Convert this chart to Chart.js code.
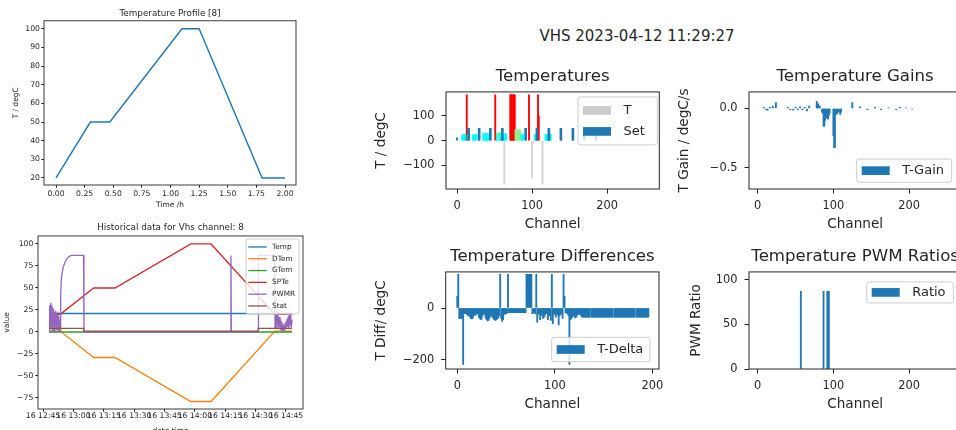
<!DOCTYPE html>
<html>
<head>
<meta charset="utf-8">
<script src="https://cdn.jsdelivr.net/npm/chart.js@4.4.0/dist/chart.umd.min.js"></script>
<style>
  html, body { margin: 0; padding: 0; background: #fff; width: 956px; height: 430px; overflow: hidden; }
  body { position: relative; font-family: "DejaVu Sans", sans-serif; }
  canvas { position: absolute; }
  #suptitle { position: absolute; left: 370px; width: 534px; top: 27px; line-height: 18px; text-align: center; font-size: 15px; color: #262626; }
</style>
</head>
<body>
<canvas id="cProfile" width="330" height="215" style="left:0;top:0"></canvas>
<canvas id="cHist" width="330" height="224" style="left:0;top:215px"></canvas>
<div id="suptitle">VHS 2023-04-12 11:29:27</div>
<canvas id="cTemps" width="300" height="175" style="left:370px;top:60px"></canvas>
<canvas id="cGains" width="310" height="175" style="left:660px;top:60px"></canvas>
<canvas id="cDiffs" width="300" height="175" style="left:370px;top:240px"></canvas>
<canvas id="cPwm" width="310" height="175" style="left:660px;top:240px"></canvas>
<script>
// ---------- data ----------
// temperature profile for channel 8 (time in h)
const profTime = [0, 0.30, 0.47, 1.10, 1.25, 1.80, 2.00];
const profTemp = [20, 50, 50, 100, 100, 20, 20];
const profXTicks = [0, 0.25, 0.5, 0.75, 1, 1.25, 1.5, 1.75, 2];
const profYTicks = [20, 30, 40, 50, 60, 70, 80, 90, 100];

// historical data, x = minutes after 12:00
const histTickMin = [45, 60, 75, 90, 105, 120, 135, 150, 165];
const histTickLabels = ['16 12:45', '16 13:00', '16 13:15', '16 13:30', '16 13:45', '16 14:00', '16 14:15', '16 14:30', '16 14:45'];
const histYTicks = [-75, -50, -25, 0, 25, 50, 75, 100];
const tempMin = [48, 168];
const tempVal = [21, 21];
const dtemMin = [48, 53.5, 70, 80.5, 118, 128, 159.5, 168];
const dtemVal = [1, 1, -29, -29, -79, -79, 1, 1];
const gtemMin = [48, 168];
const gtemVal = [0, 0];
const spteMin = [48, 53.5, 70, 80.5, 118, 128, 159.5, 168];
const spteVal = [20, 20, 50, 50, 100, 100, 20, 20];
const pwmrMin = [48, 48.25, 48.5, 48.75, 49, 49.25, 49.5, 49.75, 50, 50.25, 50.5, 50.75, 51, 51.25, 51.5, 51.75, 52, 52.25, 52.5, 52.75, 53, 53.25, 53.5,
  53.7, 54, 54.5, 55, 56, 57, 58, 59, 65, 65.2, 137.6, 137.8, 138, 151.2, 151.4, 159.4,
  159.6, 159.8, 160.1, 160.4, 160.7, 161, 161.3, 161.6, 161.9, 162.2, 162.5, 162.8, 163.1, 163.4, 163.7, 164, 164.3, 164.6, 164.9, 165.2, 165.5, 165.8, 166.1, 166.4, 166.7, 167, 167.3, 167.6, 168];
const pwmrVal = [0, 30, 4, 33, 8, 31, 2, 28, 12, 26, 0, 22, 15, 24, 3, 20, 9, 23, 0, 18, 6, 14, 2,
  40, 60, 68, 74, 80, 84, 86, 87, 87, 0, 0, 87, 0, 0, 87, 87,
  4, 20, 5, 24, 10, 22, 3, 17, 9, 12, 2, 8, 0, 6, 3, 10, 1, 7, 12, 4, 15, 6, 18, 3, 20, 8, 22, 5, 14];
const statMin = [48, 65, 65.1, 151.2, 151.3, 168];
const statVal = [4, 4, 1, 1, 4, 4];

// temperatures per channel (state: c ok, g warm, r hot, x fault)
const tChannels = [7, 8, 9, 10, 11, 12, 13, 14, 21, 22, 23, 24, 25, 26, 35, 36, 37, 38, 39, 40, 41, 42, 51,
  53, 54, 55, 56, 57, 58, 59, 60, 61, 62, 63, 64, 65, 66, 71, 72, 73, 74, 75, 76, 77,
  78, 79, 80, 81, 82, 83, 84, 85, 86, 87, 88, 96, 100, 101, 102, 104, 105, 106, 108, 109, 114,
  118, 119, 120, 121, 122, 123, 124, 125];
const tValues = [25, 25, 22, 25, 25, 25, 185, 25, 22, 25, 25, 20, 25, 25, 28, 28, 25, 30, 30, 25, 28, 25, 185,
  28, 28, 33, 35, 30, 28, 25, 28, 28, 25, -175, 28, 28, 28, 185, 185, 185, 185, 185, 185, 185,
  45, 45, 45, 42, 45, 40, 45, 38, 25, 25, 28, 185, -150, -12, -8, 25, 25, 25, 185, 100, -175,
  25, 22, 25, 25, 25, 25, 25, 25];
const tState = ['c', 'c', 'c', 'c', 'c', 'c', 'r', 'c', 'c', 'c', 'c', 'c', 'c', 'c', 'c', 'c', 'c', 'c', 'c', 'c', 'c', 'c', 'r',
  'c', 'c', 'g', 'g', 'c', 'c', 'c', 'c', 'c', 'c', 'x', 'c', 'c', 'c', 'r', 'r', 'r', 'r', 'r', 'r', 'r',
  'g', 'g', 'g', 'g', 'g', 'g', 'g', 'g', 'c', 'c', 'c', 'r', 'x', 'x', 'x', 'c', 'c', 'c', 'r', 'r', 'x',
  'c', 'c', 'c', 'c', 'c', 'c', 'c', 'c'];
const setChannels = [0, 15, 16, 29, 30, 44, 45, 60, 61, 91, 92, 106, 107, 122, 123, 138, 139, 154, 155, 169, 170, 185, 186];
const setValues = [12, 50, 50, 50, 50, 50, 50, 50, 50, 50, 50, 50, 50, 50, 50, 50, 50, 50, 50, 50, 50, 50, 50];

// temperature gains
const gainChannels = [8, 11, 13, 16, 20, 24, 40, 43, 47, 50, 53, 56, 59, 62, 65, 68, 78, 79, 80, 82,
  85, 86, 87, 88, 89, 91, 92, 93, 94, 95, 100, 101, 102, 104, 105, 107, 109, 110,
  125, 135, 145, 155, 163, 173, 183, 188, 196, 204];
const gainValues = [0.01, -0.01, -0.015, 0.01, 0.02, 0.05, 0.01, -0.01, -0.015, 0.01, -0.01, 0.015, -0.01, 0.01, -0.02, 0.02, 0.06, 0.03, 0.04, 0.02,
  -0.03, -0.04, -0.15, -0.15, -0.1, -0.08, -0.08, -0.09, -0.06, -0.04, -0.23, -0.33, -0.33, -0.05, -0.04, -0.03, -0.05, -0.03,
  0.05, 0.015, -0.01, 0.01, -0.01, 0.005, -0.01, 0.01, 0.005, -0.005];

// temperature differences, one value per channel 0..196
const diffValues = [
  45, 130, -40, -40, -40, -38, -217, -22, -22, -20,
  -25, -30, -28, -35, -40, -42, -38, -30, -25, -28,
  -20, -22, -35, -40, -45, -42, -30, -22, -25, -38,
  -45, -50, -48, -40, -32, -28, -35, -40, -45, -48,
  -45, -42, -38, -30, 130, -40, -52, -45, -20, -25,
  -22, -20, 130, -18, -18, -18, -18, -18, -18, -18,
  -18, -18, -18, -18, -18, -18, -18, -18, -18, -18,
  -18, 130, 130, 130, 130, 130, 130, -22, -18, -20,
  -22, 130, -55, -25, -20, -45, -30, -22, -40, -35,
  -28, -22, -20, -45, -25, -30, -48, 130, -60, -25,
  -22, -35, -20, -28, -65, -30, -22, -25, -40, 130,
  45, -20, -18, -22, -30, -217, -45, -40, -35, -30,
  -32, -38, -35, -28, -25, -20, -25, -30, -35, -35,
  -35, -35, -35, -35, -35, -35, -35, null, -35, -35,
  -35, -35, -35, -35, -35, -35, -35, -35, -35, -35,
  -35, -35, -35, -35, -35, -35, -35, -35, -35, -35,
  null, -35, -35, -35, -35, -35, -35, -35, -35, -35,
  -35, -35, -35, -35, -35, -35, -35, -35, -35, -35,
  -35, -35, -35, null, -35, -35, -35, -35, -35, -35,
  -35, -35, -35, -35, -35, -35, -35
];

// PWM ratios
const pwmChannels = [57, 87, 92, 93, 94];
const pwmValues = [87, 87, 87, 87, 87];

const channelTicks = [0, 100, 200];

// ---------- styling helpers ----------
const FONT = '"DejaVu Sans", sans-serif';
const INK = '#262626';
const BLUE = '#1f77b4';
const STATE_COLOR = { c: '#00ffff', g: '#90ee90', r: '#ff0000', x: '#d3d3d3' };
Chart.defaults.font.family = FONT;

const pts = (xs, ys) => xs.map((x, i) => ({ x: x, y: ys[i] }));
const minus = s => String(s).replace('-', '\u2212');

// box round the plot area, like matplotlib spines
const mplFrame = {
  id: 'mplFrame',
  afterDatasetsDraw(chart, args, opts) {
    const { ctx, chartArea: a } = chart;
    ctx.save();
    ctx.strokeStyle = INK;
    ctx.lineWidth = opts.width || 1;
    ctx.strokeRect(a.left, a.top, a.right - a.left, a.bottom - a.top);
    ctx.restore();
  }
};

// legend drawn inside the plot area
const mplLegend = {
  id: 'mplLegend',
  afterDatasetsDraw(chart, args, o) {
    if (!o || !o.w) return;
    const { ctx, chartArea: a } = chart;
    const items = chart.data.datasets.filter(d => d.label);
    const x = a.right - o.dx - o.w;
    const y = o.bottom ? a.bottom - o.dy - o.h : a.top + o.dy;
    ctx.save();
    ctx.beginPath();
    if (ctx.roundRect) ctx.roundRect(x, y, o.w, o.h, 2.5); else ctx.rect(x, y, o.w, o.h);
    ctx.fillStyle = 'rgba(255,255,255,0.8)';
    ctx.fill();
    ctx.strokeStyle = '#cccccc';
    ctx.lineWidth = 1;
    ctx.stroke();
    const rowH = (o.h - 2 * o.padY) / items.length;
    ctx.font = o.size + 'px ' + FONT;
    ctx.textBaseline = 'middle';
    items.forEach((d, i) => {
      const cy = y + o.padY + rowH * (i + 0.5);
      const hx = x + o.padX;
      const col = d.legendColor || d.borderColor;
      if (o.lines) {
        ctx.strokeStyle = col;
        ctx.lineWidth = o.lineW;
        ctx.beginPath();
        ctx.moveTo(hx, cy);
        ctx.lineTo(hx + o.handle, cy);
        ctx.stroke();
      } else {
        ctx.fillStyle = col;
        ctx.fillRect(hx, cy - o.patchH / 2, o.handle, o.patchH);
      }
      ctx.fillStyle = INK;
      ctx.fillText(d.label, hx + o.handle + o.gap, cy);
    });
    ctx.restore();
  }
};

function axis(o, horizontal) {
  return {
    type: 'linear',
    min: o.min,
    max: o.max,
    offset: false,
    afterBuildTicks: s => { s.ticks = o.ticks.map(v => ({ value: v })); },
    afterFit: s => { if (horizontal) s.height = o.size; else s.width = o.size; },
    grid: { display: true, drawOnChartArea: false, drawTicks: true, offset: false, tickLength: o.tick, tickWidth: 1, tickColor: INK, color: INK },
    border: { display: false },
    ticks: { autoSkip: false, maxRotation: 0, minRotation: 0, padding: o.pad, color: INK, font: { family: FONT, size: o.tickFont }, callback: o.fmt },
    title: { display: true, text: o.label, color: INK, font: { family: FONT, size: o.labelFont }, padding: { top: o.labelPad, bottom: o.labelPad } }
  };
}

function mplChart(id, o) {
  return new Chart(document.getElementById(id), {
    type: o.type,
    data: { datasets: o.datasets },
    options: {
      responsive: false,
      animation: false,
      events: [],
      layout: { padding: o.padding, autoPadding: false },
      plugins: {
        legend: { display: false },
        tooltip: { enabled: false },
        title: { display: true, text: o.title, fullSize: false, color: INK, font: { family: FONT, size: o.titleFont, weight: 'normal' }, padding: o.titlePad },
        mplFrame: { width: o.frameWidth || 1 },
        mplLegend: o.legend || {}
      },
      datasets: { bar: { grouped: false, barThickness: 1.2, borderWidth: 0 } },
      scales: { x: axis(o.x, true), y: axis(o.y, false) }
    },
    plugins: [mplFrame, mplLegend]
  });
}

// ---------- left: temperature profile ----------
mplChart('cProfile', {
  type: 'line',
  title: 'Temperature Profile [8]', titleFont: 8.8, titlePad: { top: 8.6, bottom: 1.6 },
  padding: { left: 8, right: 34, top: 0, bottom: 2 },
  frameWidth: 0.9,
  datasets: [{ data: pts(profTime, profTemp), borderColor: BLUE, borderWidth: 1.4, pointRadius: 0, tension: 0 }],
  x: { min: -0.105, max: 2.096, ticks: profXTicks, fmt: v => v.toFixed(2), size: 28, tick: 2.7, pad: 1.7, tickFont: 7.7, label: 'Time /h', labelFont: 7.5, labelPad: 3.5 },
  y: { min: 16.24, max: 104.3, ticks: profYTicks, fmt: v => String(v), size: 36, tick: 2.7, pad: 1.3, tickFont: 7.7, label: 'T / degC', labelFont: 7.5, labelPad: 3.5 }
});

// ---------- left: historical data ----------
const line = (label, color, xs, ys) => ({ label: label, data: pts(xs, ys), borderColor: color, borderWidth: 1.3, pointRadius: 0, tension: 0 });
mplChart('cHist', {
  type: 'line',
  title: 'Historical data for Vhs channel: 8', titleFont: 8.8, titlePad: { top: 7.7, bottom: 2.7 },
  padding: { left: 0, right: 27, top: 0, bottom: 2.2 },
  frameWidth: 0.9,
  datasets: [
    Object.assign(line('Temp', '#1f77b4', tempMin, tempVal), { order: 5 }),
    Object.assign(line('DTem', '#ff7f0e', dtemMin, dtemVal), { order: 4 }),
    Object.assign(line('GTem', '#2ca02c', gtemMin, gtemVal), { order: 3 }),
    Object.assign(line('SPTe', '#d62728', spteMin, spteVal), { order: 2 }),
    Object.assign(line('PWMR', '#9467bd', pwmrMin, pwmrVal), { order: 1 }),
    Object.assign(line('Stat', '#8c564b', statMin, statVal), { order: 0 })
  ],
  legend: { lines: true, dx: 4, dy: 3, w: 53, h: 75, padY: 2.1, padX: 2.3, handle: 18.5, gap: 5.3, size: 7.3, lineW: 1.3 },
  x: { min: 42.5, max: 173.4, ticks: histTickMin, fmt: (v, i) => histTickLabels[i], size: 27.8, tick: 2.7, pad: 0, tickFont: 7.7, label: 'date time', labelFont: 7.5, labelPad: 0.8 },
  y: { min: -87.5, max: 109.1, ticks: histYTicks, fmt: v => minus(v), size: 38, tick: 2.7, pad: 2, tickFont: 7.7, label: 'value', labelFont: 7.5, labelPad: 2.5 }
});

// ---------- right: VHS snapshot ----------
const rightX = (min, max) => ({ min: min, max: max, ticks: channelTicks, fmt: v => String(v), size: 46, tick: 4.5, pad: 5.4, tickFont: 11.4, label: 'Channel', labelFont: 13.6, labelPad: 2.3 });
const rightY = (min, max, ticks, fmt, size, label) => ({ min: min, max: max, ticks: ticks, fmt: fmt, size: size, tick: 4.5, pad: 7, tickFont: 11.4, label: label, labelFont: 13.6, labelPad: 3.5 });
const rightLegend = (bottom, dx, dy, w, h, padY) => ({ bottom: bottom, dx: dx, dy: dy, w: w, h: h, padY: padY, padX: 5, handle: 28, gap: 12.5, size: 13, patchH: 8.7 });
const rightTitle = { top: 7, bottom: 5 };

mplChart('cTemps', {
  type: 'bar',
  title: 'Temperatures', titleFont: 16.6, titlePad: rightTitle,
  padding: { left: 0, right: 10.7, top: 0, bottom: 0 },
  datasets: [
    { label: 'T', data: pts(tChannels, tValues), backgroundColor: tState.map(s => STATE_COLOR[s]), legendColor: '#cccccc', order: 1 },
    { label: 'Set', data: pts(setChannels, setValues), backgroundColor: BLUE, legendColor: BLUE, order: 0 }
  ],
  legend: rightLegend(false, 2, 5, 79.3, 48, 3),
  x: rightX(-14.67, 269.7),
  y: rightY(-195, 197, [-100, 0, 100], v => minus(v), 76, 'T / degC')
});

mplChart('cGains', {
  type: 'bar',
  title: 'Temperature Gains', titleFont: 16.6, titlePad: rightTitle,
  padding: { left: 13, right: 8.7, top: 0, bottom: 0 },
  datasets: [{ label: 'T-Gain', data: pts(gainChannels, gainValues), backgroundColor: BLUE, legendColor: BLUE }],
  legend: rightLegend(true, 9.6, 6.7, 95, 23.3, 0),
  x: rightX(-11.5, 269),
  y: rightY(-0.68, 0.14, [-0.5, 0], v => minus(v.toFixed(1)), 76, 'T Gain / degC/s')
});

mplChart('cDiffs', {
  type: 'bar',
  title: 'Temperature Differences', titleFont: 16.6, titlePad: rightTitle,
  padding: { left: 0, right: 11, top: 0, bottom: 0 },
  datasets: [{ label: 'T-Delta', data: diffValues.map((v, ch) => ({ x: ch, y: v })), backgroundColor: BLUE, legendColor: BLUE }],
  legend: rightLegend(true, 9, 7.3, 98.3, 24.4, 0),
  x: rightX(-11.9, 206.9),
  y: rightY(-235, 139, [-200, 0], v => minus(v), 75.7, 'T Diff/ degC')
});

mplChart('cPwm', {
  type: 'bar',
  title: 'Temperature PWM Ratios', titleFont: 16.6, titlePad: rightTitle,
  padding: { left: 25, right: 8.7, top: 0, bottom: 0 },
  datasets: [{ label: 'Ratio', data: pts(pwmChannels, pwmValues), backgroundColor: BLUE, legendColor: BLUE }],
  legend: rightLegend(false, 8, 10, 86.6, 21, 0),
  x: rightX(-11.5, 269),
  y: rightY(0, 108.6, [0, 50, 100], v => String(v), 64, 'PWM Ratio')
});
</script>
</body>
</html>
